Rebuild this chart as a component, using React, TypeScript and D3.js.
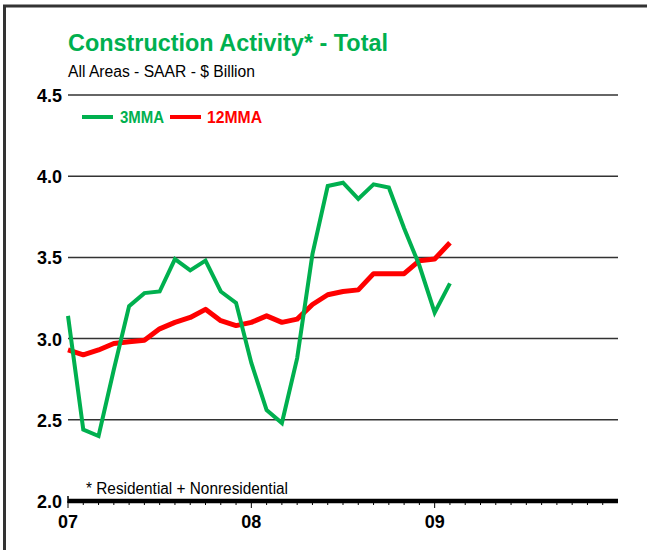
import React from "react";
import * as d3 from "d3";

// Months since Jan 2007
const months: number[] = Array.from({ length: 26 }, (_, i) => i);
const mma3: number[] = [3.14, 2.44, 2.40, 2.81, 3.20, 3.28, 3.29, 3.49, 3.42, 3.48, 3.29, 3.22, 2.85, 2.56, 2.48, 2.88, 3.52, 3.94, 3.96, 3.86, 3.95, 3.93, 3.68, 3.45, 3.16, 3.34];
const mma12: number[] = [2.93, 2.90, 2.93, 2.97, 2.98, 2.99, 3.06, 3.10, 3.13, 3.18, 3.11, 3.08, 3.10, 3.14, 3.10, 3.12, 3.21, 3.27, 3.29, 3.30, 3.40, 3.40, 3.40, 3.48, 3.49, 3.59];
const yTicks: number[] = [2.0, 2.5, 3.0, 3.5, 4.0, 4.5];
const xTickLabels: string[] = ["07", "08", "09"];
const xTickMonths: number[] = [0, 12, 24];
const allMonthTicks: number[] = Array.from({ length: 36 }, (_, i) => i);

const GREEN = "#00b04f";
const RED = "#ff0000";
const FONT = "'Liberation Sans', Arial, sans-serif";

export default function App() {
  const x = d3.scaleLinear().domain([0, 36]).range([68, 618]);
  const y = d3.scaleLinear().domain([2.0, 4.5]).range([501, 95]);
  const line = d3
    .line<number>()
    .x((_, i) => x(months[i]))
    .y((d) => y(d));

  return (
    <svg
      width={647}
      height={550}
      style={{ position: "absolute", left: 0, top: 0, background: "#fff" }}
      fontFamily={FONT}
    >
      <rect x={0} y={0} width={647} height={550} fill="#fff" />
      {/* frame */}
      <line x1={4.5} y1={6} x2={4.5} y2={550} stroke="#333" strokeWidth={3} />
      <line x1={3} y1={6} x2={647} y2={6} stroke="#333" strokeWidth={3} />

      {/* title */}
      <text x={68} y={51} fontSize={24} fontWeight="bold" fill={GREEN} textLength={320} lengthAdjust="spacingAndGlyphs">
        Construction Activity* - Total
      </text>
      <text x={68} y={77} fontSize={16} fill="#000" textLength={187} lengthAdjust="spacingAndGlyphs">
        All Areas - SAAR - $ Billion
      </text>

      {/* gridlines */}
      {yTicks
        .filter((t) => t > 2.0)
        .map((t) => (
          <line key={t} x1={68} x2={618} y1={y(t)} y2={y(t)} stroke="#333" strokeWidth={1.5} />
        ))}
      {yTicks.map((t) => (
        <text key={"l" + t} x={62} y={y(t) + 7} textAnchor="end" fontSize={19} fontWeight="bold" fill="#000" textLength={25} lengthAdjust="spacingAndGlyphs">
          {t.toFixed(1)}
        </text>
      ))}

      {/* legend */}
      <line x1={82} x2={113} y1={117} y2={117} stroke={GREEN} strokeWidth={4} />
      <text x={120} y={123} fontSize={16} fontWeight="bold" fill={GREEN} textLength={44} lengthAdjust="spacingAndGlyphs">3MMA</text>
      <line x1={170} x2={201} y1={117} y2={117} stroke={RED} strokeWidth={4} />
      <text x={207} y={123} fontSize={16} fontWeight="bold" fill={RED} textLength={55} lengthAdjust="spacingAndGlyphs">12MMA</text>

      {/* footnote */}
      <text x={86} y={494} fontSize={16} fill="#000" textLength={202} lengthAdjust="spacingAndGlyphs">* Residential + Nonresidential</text>

      {/* series */}
      <path d={line(mma12) || ""} fill="none" stroke={RED} strokeWidth={5} strokeLinejoin="round" />
      <path d={line(mma3) || ""} fill="none" stroke={GREEN} strokeWidth={4} strokeLinejoin="miter" />

      {/* x axis */}
      {allMonthTicks.map((m) => (
        <line
          key={"t" + m}
          x1={x(m)}
          x2={x(m)}
          y1={501}
          y2={m % 12 === 0 ? 508 : 505}
          stroke="#000"
          strokeWidth={1}
        />
      ))}
      <line x1={68} x2={68} y1={496} y2={503} stroke="#000" strokeWidth={1.5} />
      <line x1={68} x2={618} y1={501} y2={501} stroke="#000" strokeWidth={4.5} />
      {xTickLabels.map((lab, i) => (
        <text key={lab} x={x(xTickMonths[i])} y={528} textAnchor="middle" fontSize={19} fontWeight="bold" fill="#000" textLength={20} lengthAdjust="spacingAndGlyphs">
          {lab}
        </text>
      ))}
    </svg>
  );
}
